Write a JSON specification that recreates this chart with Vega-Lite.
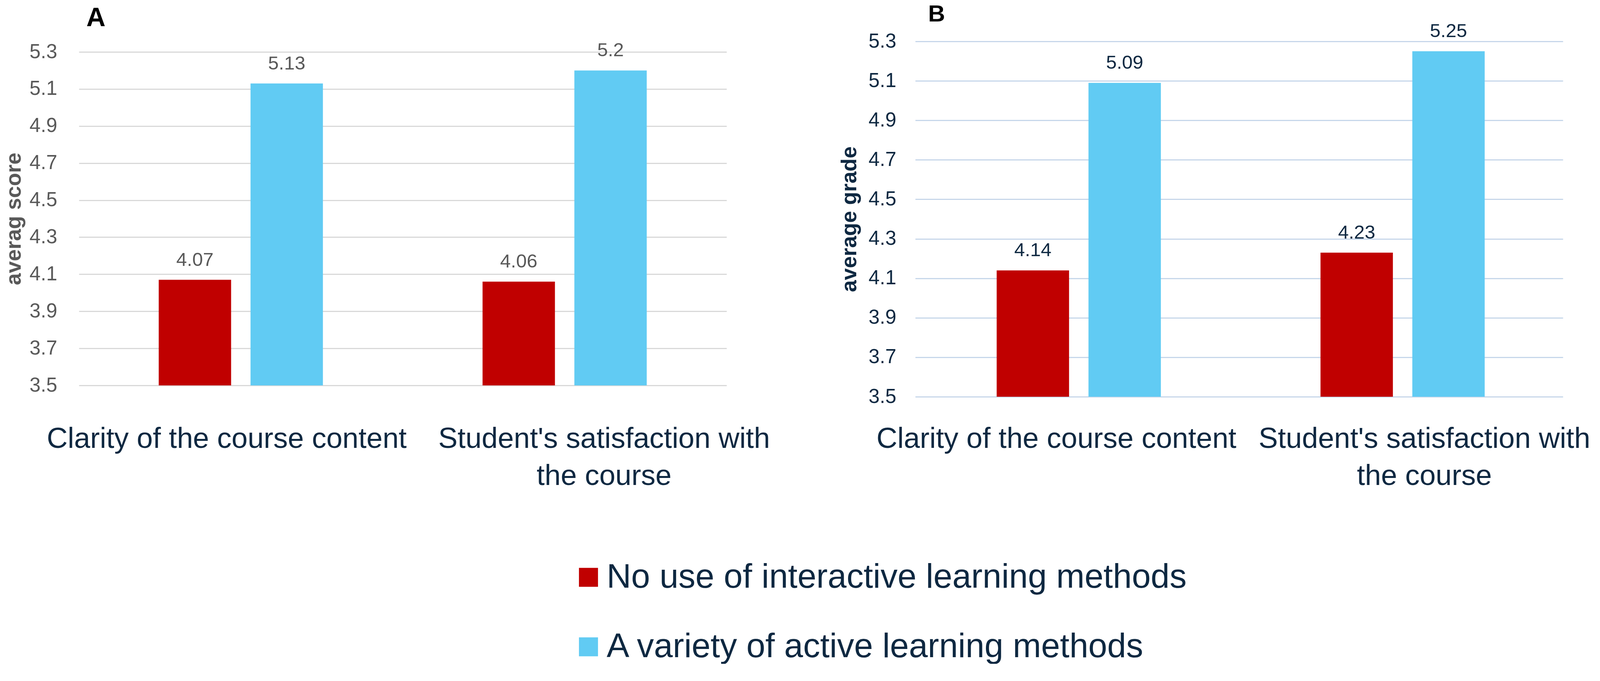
{
  "$schema": "https://vega.github.io/schema/vega-lite/v6.json",
  "background": "white",
  "padding": {"left": 8, "top": 7, "right": 0, "bottom": 0},
  "bounds": "flush",
  "spacing": 483,
  "config": {
    "view": {"stroke": null},
    "font": "Liberation Sans",
    "axisX": {
      "title": null,
      "ticks": false,
      "domain": false,
      "labelAngle": 0,
      "labelLimit": 0,
      "labelFontSize": 74,
      "labelColor": "#0E2841",
      "labelPadding": 72,
      "labelLineHeight": 95,
      "labelExpr": "indexof(datum.label, 'with the') > 0 ? [replace(datum.label, ' the course', ''), 'the course'] : datum.label"
    },
    "axisY": {
      "ticks": false,
      "domain": false,
      "format": ".1f",
      "labelFontSize": 51,
      "titleFontWeight": "bold",
      "titleFontSize": 55,
      "gridWidth": 3
    },
    "legend": {
      "orient": "none",
      "legendX": 1261,
      "legendY": 1329,
      "direction": "vertical",
      "title": null,
      "symbolType": "square",
      "symbolSize": 2376,
      "symbolStrokeWidth": 0,
      "symbolOpacity": 1,
      "labelFontSize": 87,
      "labelColor": "#0E2841",
      "labelOffset": 3,
      "labelLimit": 0,
      "rowPadding": 90
    }
  },
  "data": {
    "values": [
      {"panel": "A", "item": "Clarity of the course content", "group": "No use of interactive learning methods", "value": 4.07},
      {"panel": "A", "item": "Clarity of the course content", "group": "A variety of active learning methods", "value": 5.13},
      {"panel": "A", "item": "Student's satisfaction with the course", "group": "No use of interactive learning methods", "value": 4.06},
      {"panel": "A", "item": "Student's satisfaction with the course", "group": "A variety of active learning methods", "value": 5.2},
      {"panel": "B", "item": "Clarity of the course content", "group": "No use of interactive learning methods", "value": 4.14},
      {"panel": "B", "item": "Clarity of the course content", "group": "A variety of active learning methods", "value": 5.09},
      {"panel": "B", "item": "Student's satisfaction with the course", "group": "No use of interactive learning methods", "value": 4.23},
      {"panel": "B", "item": "Student's satisfaction with the course", "group": "A variety of active learning methods", "value": 5.25}
    ]
  },
  "hconcat": [
    {
      "width": 1658,
      "height": 910,
      "title": {"text": "A", "anchor": "start", "frame": "group", "fontSize": 68, "fontWeight": "bold", "color": "black", "dx": 19, "offset": 24},
      "transform": [{"filter": "datum.panel == 'A'"}],
      "encoding": {
        "x": {
          "field": "item", "type": "nominal", "sort": null,
          "scale": {"paddingInner": 0.493, "paddingOuter": 0.2465},
          "axis": {"labelOffset": {"condition": {"test": "datum.value == 'Clarity of the course content'", "value": -36}, "value": 101}}
        },
        "xOffset": {"field": "group", "type": "nominal", "sort": null, "scale": {"paddingInner": 0.2116, "paddingOuter": 0}},
        "y": {
          "field": "value",
          "type": "quantitative",
          "scale": {"domain": [3.5, 5.3], "range": [881, 27], "zero": false, "nice": false},
          "axis": {
            "values": [3.5, 3.7, 3.9, 4.1, 4.3, 4.5, 4.7, 4.9, 5.1, 5.3],
            "title": "averag score", "titleColor": "#595959", "labelColor": "#595959",
            "gridColor": "#D9D9D9", "labelPadding": 56, "titlePadding": 11
          }
        }
      },
      "layer": [
        {
          "mark": {"type": "bar"},
          "encoding": {
            "y2": {"datum": 3.5},
            "color": {"field": "group", "type": "nominal", "sort": null, "scale": {"domain": ["No use of interactive learning methods", "A variety of active learning methods"], "range": ["#C00000", "#61CBF3"]}}
          }
        },
        {
          "mark": {"type": "text", "baseline": "alphabetic", "dy": -36, "fontSize": 49, "color": "#595959"},
          "encoding": {"text": {"field": "value", "type": "nominal"}}
        }
      ]
    },
    {
      "width": 1658,
      "height": 910,
      "title": {"text": "B", "anchor": "start", "frame": "group", "fontSize": 60, "fontWeight": "bold", "color": "black", "dx": 33, "offset": -12},
      "transform": [{"filter": "datum.panel == 'B'"}],
      "encoding": {
        "x": {
          "field": "item", "type": "nominal", "sort": null,
          "scale": {"paddingInner": 0.503, "paddingOuter": 0.2515},
          "axis": {"labelOffset": {"condition": {"test": "datum.value == 'Clarity of the course content'", "value": -53}, "value": 60}}
        },
        "xOffset": {"field": "group", "type": "nominal", "sort": null, "scale": {"paddingInner": 0.169, "paddingOuter": 0}},
        "y": {
          "field": "value",
          "type": "quantitative",
          "scale": {"domain": [3.5, 5.3], "zero": false, "nice": false},
          "axis": {
            "values": [3.5, 3.7, 3.9, 4.1, 4.3, 4.5, 4.7, 4.9, 5.1, 5.3],
            "title": "average grade", "titleColor": "#0E2841", "labelColor": "#0E2841",
            "gridColor": "#C7D7EA", "labelPadding": 49, "titlePadding": 20
          }
        }
      },
      "layer": [
        {
          "mark": {"type": "bar"},
          "encoding": {
            "y2": {"datum": 3.5},
            "color": {"field": "group", "type": "nominal", "sort": null, "scale": {"domain": ["No use of interactive learning methods", "A variety of active learning methods"], "range": ["#C00000", "#61CBF3"]}}
          }
        },
        {
          "mark": {"type": "text", "baseline": "alphabetic", "dy": -36, "fontSize": 49, "color": "#0E2841"},
          "encoding": {"text": {"field": "value", "type": "nominal"}}
        }
      ]
    }
  ]
}
